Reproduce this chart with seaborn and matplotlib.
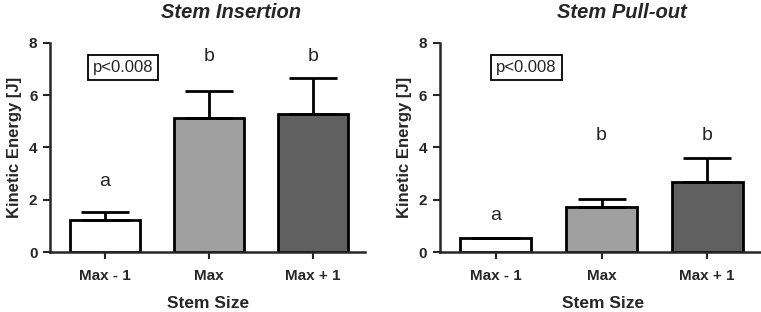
import matplotlib
matplotlib.use("Agg")
import matplotlib.pyplot as plt
import pandas as pd
import seaborn as sns

# data
sizes = ["Max - 1", "Max", "Max + 1"]
insertion_mean = [1.23, 5.12, 5.29]
insertion_err = [0.29, 1.06, 1.36]
insertion_letters = ["a", "b", "b"]
insertion_letter_y = [2.7, 7.5, 7.5]
pullout_mean = [0.52, 1.71, 2.69]
pullout_err = [0.0, 0.32, 0.92]
pullout_letters = ["a", "b", "b"]
pullout_letter_y = [1.4, 4.45, 4.45]
bar_colors = ["#ffffff", "#a0a0a0", "#606060"]

sns.set_style("ticks")
plt.rcParams["font.family"] = ["Liberation Sans", "DejaVu Sans"]

fig = plt.figure(figsize=(7.61, 3.12), dpi=100)
ax1 = fig.add_axes([0.0657, 0.1923, 0.4139, 0.6699])
ax2 = fig.add_axes([0.578, 0.1923, 0.4207, 0.6699])


def draw_panel(ax, means, errs, letters, letter_y, box_x):
    df = pd.DataFrame({"size": sizes, "energy": means})
    sns.barplot(data=df, x="size", y="energy", hue="size", palette=bar_colors,
                order=sizes, hue_order=sizes, legend=False, width=0.67,
                edgecolor="black", linewidth=2, errorbar=None, ax=ax)
    ax.errorbar(range(len(sizes)), means, yerr=[[0] * len(errs), errs],
                fmt="none", ecolor="black", elinewidth=2, capsize=17,
                capthick=2, zorder=1)
    for i, (t, y) in enumerate(zip(letters, letter_y)):
        ax.text(i, y, t, ha="center", va="center", fontsize=14)
    ax.text(box_x, 7.05, "p<0.008", ha="center", va="center", fontsize=12,
            bbox=dict(boxstyle="square,pad=0.3", fc="white", ec="black", lw=1.3))
    ax.set_ylim(0, 8)
    ax.set_yticks([0, 2, 4, 6, 8])
    ax.set_xlim(-0.53, 2.5)
    ax.set_xlabel("")
    ax.set_ylabel("Kinetic Energy [J]", fontsize=12, fontweight="bold", labelpad=5)
    for lab in ax.get_xticklabels() + ax.get_yticklabels():
        lab.set_fontweight("bold")
    ax.tick_params(axis="x", labelsize=11, width=1.5, length=5, pad=7)
    ax.tick_params(axis="y", labelsize=11, width=1.5, length=5, pad=4)
    for s in ["left", "bottom"]:
        ax.spines[s].set_linewidth(1.8)
    sns.despine(ax=ax)


draw_panel(ax1, insertion_mean, insertion_err, insertion_letters, insertion_letter_y, 0.17)
draw_panel(ax2, pullout_mean, pullout_err, pullout_letters, pullout_letter_y, 0.29)

fig.text(231 / 761, 1 - 13 / 312, "Stem Insertion", ha="center", va="center",
         fontsize=14.5, fontweight="bold", style="italic")
fig.text(622 / 761, 1 - 13 / 312, "Stem Pull-out", ha="center", va="center",
         fontsize=14.5, fontweight="bold", style="italic")
fig.text(208 / 761, 1 - 304 / 312, "Stem Size", ha="center", va="center",
         fontsize=12.5, fontweight="bold")
fig.text(603 / 761, 1 - 304 / 312, "Stem Size", ha="center", va="center",
         fontsize=12.5, fontweight="bold")

fig.savefig("out.png", dpi=100)
